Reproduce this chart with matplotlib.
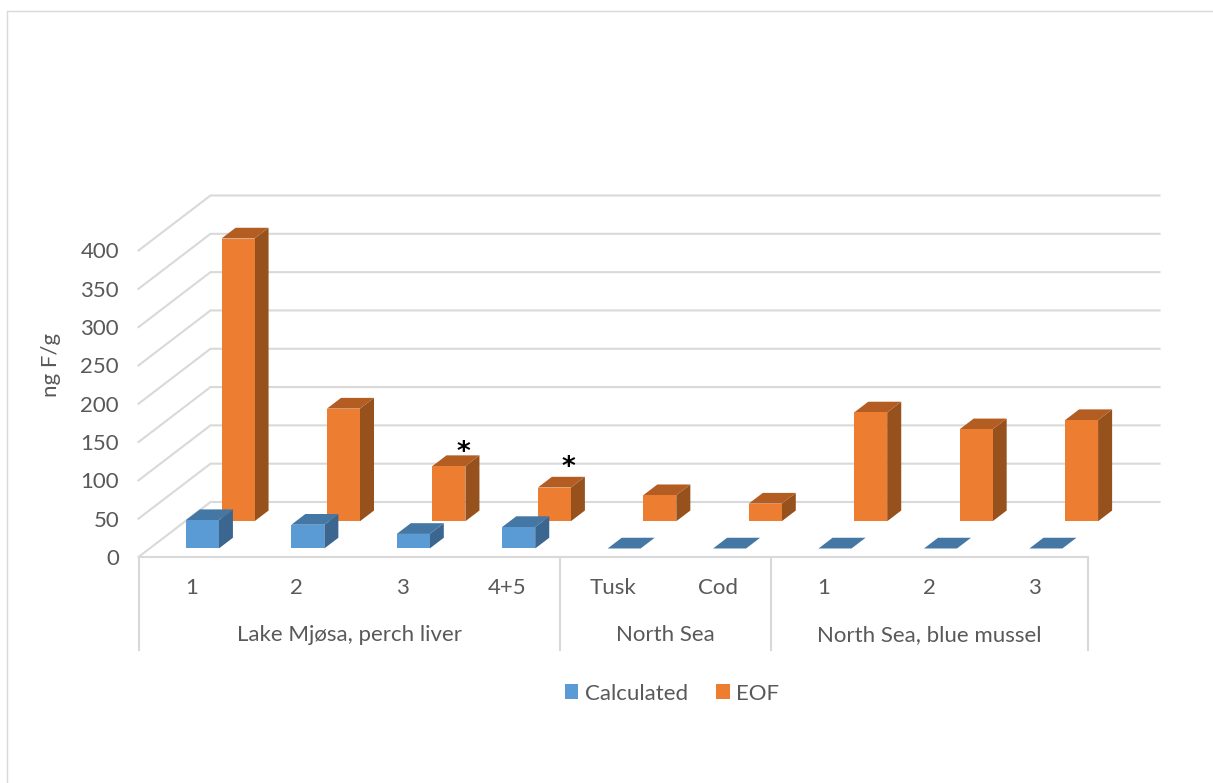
import numpy as np
import matplotlib
matplotlib.use('Agg')
import matplotlib.pyplot as plt
from matplotlib.lines import Line2D
from matplotlib.patches import Patch, Polygon

categories = ['1', '2', '3', '4+5', 'Tusk', 'Cod', '1', '2', '3']
calculated = [37, 31, 19, 28, 0, 0, 0, 0, 0]
eof = [369, 147, 72, 44, 34, 23, 142, 120, 132]
groups = ['Lake Mjøsa, perch liver', 'North Sea', 'North Sea, blue mussel']
group_spans = [(0, 4), (4, 6), (6, 9)]
starred = [2, 3]
star_offset = [-8, -3]
yticks = [0, 50, 100, 150, 200, 250, 300, 350, 400]

W, H = 1213, 783
plt.rcParams['font.family'] = ['Lato', 'DejaVu Sans']
txt = '#595959'
grid = '#D9D9D9'

fig = plt.figure(figsize=(W / 100, H / 100), dpi=100)
left, right, top, bottom = 138.5, 1087.5, 250.5, 557
ax = fig.add_axes([left / W, 1 - bottom / H, (right - left) / W, (bottom - top) / H])
ax.set_xlim(0, 9)
ax.set_ylim(0, 400)
for s in ax.spines.values():
    s.set_visible(False)
ax.patch.set_alpha(0)

# depth of the fake 3d floor, in data units
px_x = 9 / (right - left)
px_y = 400 / (bottom - top)
depth_x = 72 * px_x
depth_y = 55 * px_y
bar_w = 33 * px_x


def proj(x, v, d):
    return x + d * depth_x, v + d * depth_y


def box(x0, val, d0, d1, front, side, roof, z):
    x1 = x0 + bar_w
    if val > 0:
        ax.add_patch(Polygon([proj(x0, 0, d0), proj(x1, 0, d0), proj(x1, val, d0), proj(x0, val, d0)],
                             fc=front, ec='none', zorder=z + 0.2, clip_on=False))
        ax.add_patch(Polygon([proj(x1, 0, d0), proj(x1, 0, d1), proj(x1, val, d1), proj(x1, val, d0)],
                             fc=side, ec='none', zorder=z + 0.1, clip_on=False))
    ax.add_patch(Polygon([proj(x0, val, d0), proj(x1, val, d0), proj(x1, val, d1), proj(x0, val, d1)],
                         fc=roof, ec='none', zorder=z + 0.1, clip_on=False))


# back wall and side wall gridlines
for v in yticks:
    ax.plot([0, depth_x, 9 + depth_x], [v, v + depth_y, v + depth_y], color=grid, lw=1.5,
            clip_on=False, zorder=1, solid_joinstyle='miter')

# floor front edge and the multi level axis separators
ax.plot([0, 9], [0, 0], color=grid, lw=1.5, clip_on=False, zorder=1.5)
sep_end = -93 * px_y
for x in [0, 4, 6, 9]:
    ax.plot([x, x], [0, sep_end], color=grid, lw=1.5, clip_on=False, zorder=1.5)

pos = np.arange(len(categories)) + 0.5
for i, val in enumerate(eof):
    box(pos[i] - bar_w / 2, val, 0.65, 0.845, '#ED7D31', '#96511C', '#B35D22', 3)
for i, val in enumerate(calculated):
    box(pos[i] - bar_w / 2, val, 0.155, 0.35, '#5B9BD5', '#3A668F', '#4477A4', 4)

for i, off in zip(starred, star_offset):
    xs, ys = proj(pos[i], eof[i], 0.845)
    ax.annotate('*', xy=(xs, ys), xytext=(0, off), textcoords='offset points', ha='center', va='bottom',
                fontsize=19, fontweight='bold', color='black', family='DejaVu Sans', zorder=6)

ax.set_xticks(pos)
ax.set_xticklabels(categories)
ax.set_yticks(yticks)
ax.tick_params(axis='x', length=0, pad=15, labelsize=16, labelcolor=txt)
ax.tick_params(axis='y', length=0, pad=14, labelsize=16, labelcolor=txt)
ax.set_ylabel('ng F/g', fontsize=16, color=txt, va='center')
ax.yaxis.set_label_coords((51 - left) / (right - left), (bottom - 365) / (bottom - top))

for name, (a, b) in zip(groups, group_spans):
    ax.text((a + b) / 2, -78 * px_y, name, ha='center', va='center', fontsize=16, color=txt, clip_on=False)

handles = [Patch(fc='#5B9BD5', ec='none', label='Calculated'), Patch(fc='#ED7D31', ec='none', label='EOF')]
fig.legend(handles=handles, loc='center', bbox_to_anchor=(672 / W, 1 - 693.5 / H), ncol=2, frameon=False,
           fontsize=16, labelcolor=txt, handlelength=0.62, handleheight=0.62, handletextpad=0.3,
           columnspacing=1.25, borderpad=0)

# chart frame
fig.add_artist(Line2D([6.5 / W, 6.5 / W, 1], [0, 1 - 10.5 / H, 1 - 10.5 / H], color=grid, lw=1))

fig.savefig('out.png', dpi=100)
